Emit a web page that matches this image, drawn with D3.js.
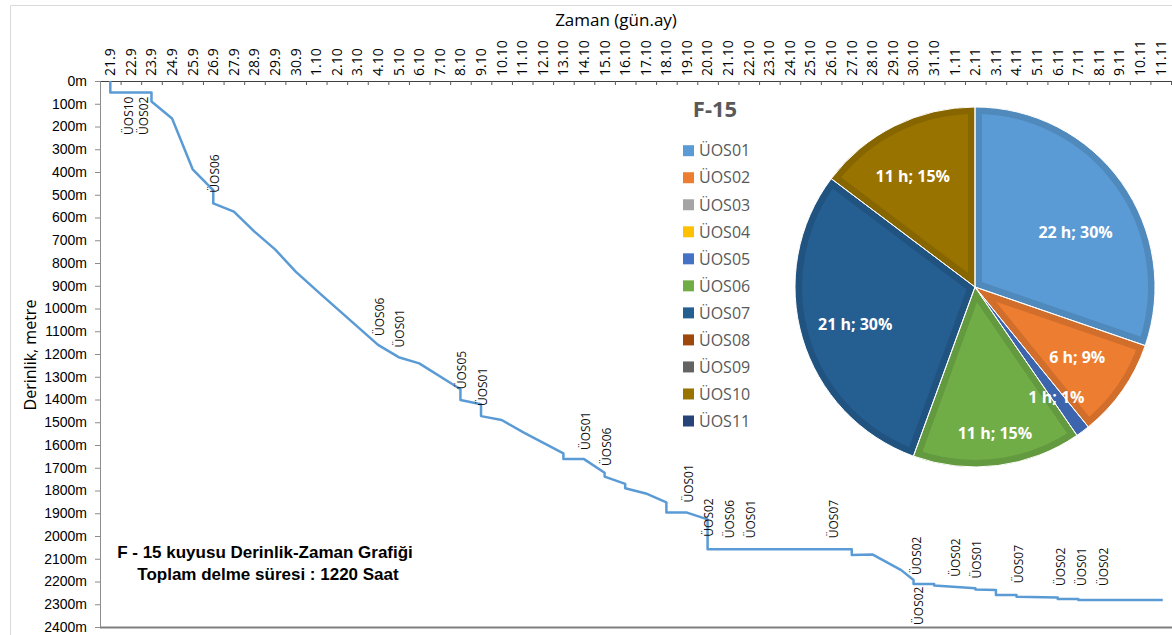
<!DOCTYPE html>
<html>
<head>
<meta charset="utf-8">
<script src="https://cdn.jsdelivr.net/npm/d3@7"></script>
<style>
  body { margin: 0; background: #fff; }
  svg { display: block; }
</style>
</head>
<body>
<svg id="chart"></svg>
<script>
// date labels along the top axis (gün.ay)
const dayLabels = [
  '21.9', '22.9', '23.9', '24.9', '25.9', '26.9', '27.9', '28.9', '29.9', '30.9',
  '1.10', '2.10', '3.10', '4.10', '5.10', '6.10', '7.10', '8.10', '9.10', '10.10',
  '11.10', '12.10', '13.10', '14.10', '15.10', '16.10', '17.10', '18.10', '19.10', '20.10',
  '21.10', '22.10', '23.10', '24.10', '25.10', '26.10', '27.10', '28.10', '29.10', '30.10',
  '31.10', '1.11', '2.11', '3.11', '4.11', '5.11', '6.11', '7.11', '8.11', '9.11',
  '10.11', '11.11'
];

// depth-time curve: days since 21.9 and depth in metres
const curveDays = [0, 0, 2, 2, 3, 4, 4.85, 5, 5, 6, 7, 8, 9, 10.2, 13, 14, 15, 16.85, 17, 17,
  18, 18, 19, 20.1, 22, 22, 23, 24, 24, 25, 25, 26, 27, 27, 28, 29, 29, 36, 36, 37,
  38.4, 39, 39, 40, 40, 42, 42, 43, 43, 44, 44, 46, 46, 47, 47, 51.1];
const curveDepths = [0, 50, 50, 90, 165, 388, 467, 480, 538, 574, 662, 740, 838, 936, 1160, 1214, 1241, 1346, 1355, 1402,
  1421, 1473, 1490, 1547, 1637, 1662, 1662, 1722, 1739, 1771, 1790, 1813, 1852, 1897, 1897, 1927, 2058, 2058, 2084, 2081,
  2150, 2193, 2211, 2211, 2218, 2230, 2235, 2237, 2259, 2259, 2267, 2270, 2277, 2277, 2281, 2281];

// unit labels written along the curve
const noteLabels = ['ÜOS10', 'ÜOS02', 'ÜOS06', 'ÜOS06', 'ÜOS01', 'ÜOS05', 'ÜOS01', 'ÜOS01', 'ÜOS06', 'ÜOS01', 'ÜOS02',
  'ÜOS06', 'ÜOS01', 'ÜOS07', 'ÜOS02', 'ÜOS02', 'ÜOS02', 'ÜOS01', 'ÜOS07', 'ÜOS02', 'ÜOS01', 'ÜOS02'];
const noteDays = [1.1, 1.83, 5.27, 13.27, 14.27, 17.27, 18.27, 23.3, 24.3, 28.27, 29.27,
  30.3, 31.3, 35.35, 39.37, 39.45, 41.27, 42.27, 44.33, 46.33, 47.37, 48.42];
const noteDepths = [237, 237, 491, 1121, 1171, 1355, 1429, 1622, 1692, 1853, 2003,
  2010, 2010, 2010, 2171, 2391, 2179, 2187, 2208, 2220, 2220, 2220];

// pie: hours per unit
const units = ['ÜOS01', 'ÜOS02', 'ÜOS03', 'ÜOS04', 'ÜOS05', 'ÜOS06', 'ÜOS07', 'ÜOS08', 'ÜOS09', 'ÜOS10', 'ÜOS11'];
const hours = [21.8, 6.4, 0, 0, 0.9, 10.9, 21.4, 0, 0, 10.6, 0];
const unitColors = ['#5B9BD5', '#ED7D31', '#A5A5A5', '#FFC000', '#4472C4', '#70AD47',
  '#255E91', '#9E480E', '#636363', '#997300', '#264478'];

const width = 1172;
const height = 635;
const margin = { top: 81, right: 1, bottom: 8, left: 100 };

const svg = d3.select('#chart')
  .attr('width', width)
  .attr('height', height)
  .style('font-family', '"Open Sans", sans-serif');

// chart area border
svg.append('path')
  .attr('d', `M10.5,${height}V5.5H${width}`)
  .attr('fill', 'none')
  .attr('stroke', '#d9d9d9');

const x = d3.scaleLinear()
  .domain([-0.5, 51.5])
  .range([margin.left, width - margin.right]);

const y = d3.scaleLinear()
  .domain([0, 2400])
  .range([margin.top, height - margin.bottom]);

// top axis (time)
svg.append('g')
  .attr('transform', `translate(0,${margin.top})`)
  .call(d3.axisTop(x)
    .tickValues(d3.range(-0.5, 52, 1))
    .tickSizeInner(-4)
    .tickSizeOuter(0)
    .tickFormat(''))
  .call(g => g.select('.domain').attr('stroke', '#404040'))
  .call(g => g.selectAll('.tick line').attr('stroke', '#595959'));

svg.append('g')
  .attr('font-size', 14)
  .attr('fill', '#000')
  .selectAll('text')
  .data(dayLabels)
  .join('text')
  .attr('transform', (d, i) => `translate(${x(i)},${margin.top - 5}) rotate(-90)`)
  .attr('dy', '0.35em')
  .text(d => d);

svg.append('text')
  .attr('x', 616)
  .attr('y', 26)
  .attr('text-anchor', 'middle')
  .attr('font-size', 17)
  .text('Zaman (gün.ay)');

// left axis (depth)
svg.append('g')
  .attr('transform', `translate(${margin.left},0)`)
  .call(d3.axisLeft(y)
    .tickValues(d3.range(0, 2401, 100))
    .tickSize(5)
    .tickPadding(8)
    .tickFormat(d => d + 'm'))
  .call(g => g.select('.domain').attr('stroke', '#8c8c8c'))
  .call(g => g.selectAll('.tick line').attr('stroke', '#8c8c8c'))
  .call(g => g.selectAll('.tick text')
    .attr('font-family', '"Liberation Sans", Arial, sans-serif')
    .attr('font-size', 14)
    .attr('fill', '#000'));

svg.append('text')
  .attr('transform', `translate(36,${(margin.top + height - margin.bottom) / 2 + 1}) rotate(-90)`)
  .attr('text-anchor', 'middle')
  .attr('font-size', 16)
  .text('Derinlik, metre');

// bottom edge of the plot area
svg.append('line')
  .attr('x1', margin.left)
  .attr('x2', width)
  .attr('y1', y(2400) + 0.5)
  .attr('y2', y(2400) + 0.5)
  .attr('stroke', '#7f7f7f')
  .attr('stroke-width', 2);

// depth curve
svg.append('path')
  .datum(d3.zip(curveDays, curveDepths))
  .attr('fill', 'none')
  .attr('stroke', '#5B9BD5')
  .attr('stroke-width', 2.5)
  .attr('stroke-linejoin', 'round')
  .attr('d', d3.line()
    .x(d => x(d[0]))
    .y(d => y(d[1])));

// unit notes
svg.append('g')
  .attr('font-size', 12)
  .attr('fill', '#111')
  .selectAll('text')
  .data(noteLabels)
  .join('text')
  .attr('transform', (d, i) => `translate(${x(noteDays[i])},${y(noteDepths[i])}) rotate(-90)`)
  .text(d => d);

// caption
const caption = svg.append('g')
  .attr('font-family', '"Liberation Sans", Arial, sans-serif')
  .attr('font-weight', 'bold')
  .attr('font-size', 17)
  .attr('text-anchor', 'middle');
caption.append('text').attr('x', 265).attr('y', 558).text('F - 15 kuyusu Derinlik-Zaman Grafiği');
caption.append('text').attr('x', 268).attr('y', 580).text('Toplam delme süresi : 1220 Saat');

// legend
svg.append('text')
  .attr('x', 715)
  .attr('y', 117)
  .attr('text-anchor', 'middle')
  .attr('font-size', 22)
  .attr('font-weight', 'bold')
  .attr('fill', '#595959')
  .text('F-15');

const legend = svg.append('g')
  .selectAll('g')
  .data(units)
  .join('g')
  .attr('transform', (d, i) => `translate(683,${150.7 + i * 27.03})`);

legend.append('rect')
  .attr('y', -5.5)
  .attr('width', 11)
  .attr('height', 11)
  .attr('fill', (d, i) => unitColors[i]);

legend.append('text')
  .attr('x', 16)
  .attr('dy', '0.36em')
  .attr('font-size', 16)
  .attr('fill', '#595959')
  .text(d => d);

// pie
const radius = 180;
const pieG = svg.append('g').attr('transform', 'translate(975,287)');
const total = d3.sum(hours);

// best-fit style nudges for the data labels (px)
const labelNudge = {
  'ÜOS01': [-2, 19], 'ÜOS02': [-1, -2], 'ÜOS05': [6, 9],
  'ÜOS06': [4, 21], 'ÜOS07': [1, 2], 'ÜOS10': [-6, 2]
};

const slices = d3.pie().sort(null)(hours)
  .map((s, i) => ({ ...s, i }))
  .filter(s => s.value > 0);

const arc = d3.arc().innerRadius(0).outerRadius(radius);
const labelArc = d3.arc().innerRadius(radius * 0.7).outerRadius(radius * 0.7);

const defs = svg.append('defs');
slices.forEach(s => {
  defs.append('clipPath')
    .attr('id', 'slice' + s.i)
    .append('path')
    .attr('d', arc(s));
});

pieG.selectAll('path.slice')
  .data(slices)
  .join('path')
  .attr('class', 'slice')
  .attr('d', arc)
  .attr('clip-path', d => `url(#slice${d.i})`)
  .attr('fill', d => unitColors[d.i])
  .attr('stroke', d => d3.color(unitColors[d.i]).darker(0.35))
  .attr('stroke-width', 14)
  .attr('stroke-linejoin', 'miter');

pieG.selectAll('path.gap')
  .data(slices)
  .join('path')
  .attr('class', 'gap')
  .attr('d', arc)
  .attr('fill', 'none')
  .attr('stroke', '#fff')
  .attr('stroke-width', 1);

pieG.selectAll('text')
  .data(slices)
  .join('text')
  .attr('transform', d => {
    const [cx, cy] = labelArc.centroid(d);
    const [nx, ny] = labelNudge[units[d.i]] || [0, 0];
    return `translate(${cx + nx},${cy + ny})`;
  })
  .attr('text-anchor', 'middle')
  .attr('dy', '0.35em')
  .attr('font-size', 16)
  .attr('font-weight', 'bold')
  .attr('fill', '#fff')
  .text(d => `${Math.round(d.value)} h; ${Math.round(d.value / total * 100)}%`);
</script>
</body>
</html>
